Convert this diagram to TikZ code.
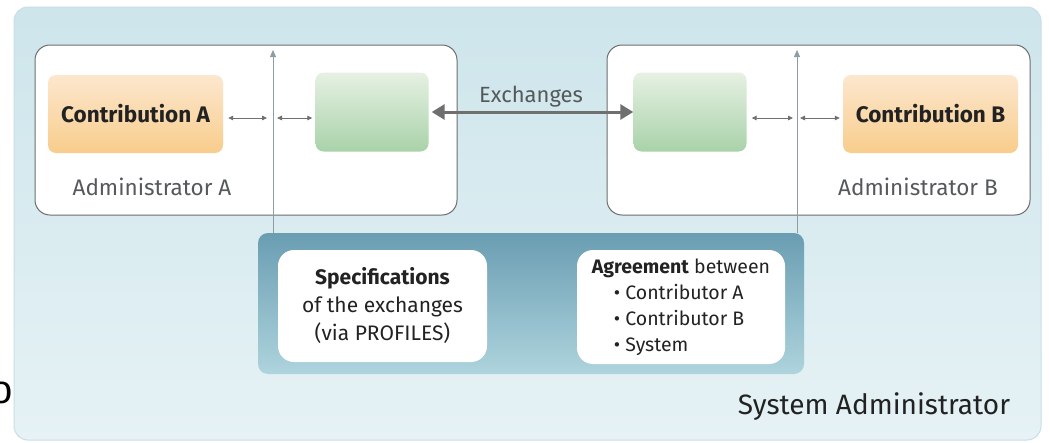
\documentclass[tikz,border=0pt]{standalone}
\usepackage{fontspec}
\setmainfont{Fira Sans}
\newfontfamily\strayfont{Liberation Sans}
\usetikzlibrary{arrows.meta}

\definecolor{panelTop}{HTML}{CDE5EB}
\definecolor{panelBot}{HTML}{E6F2F5}
\definecolor{panelRim}{HTML}{C8DFE5}
\definecolor{deepTop}{HTML}{6A9DB2}
\definecolor{deepBot}{HTML}{AED4DD}
\definecolor{orangeTop}{HTML}{FCE7CE}
\definecolor{orangeBot}{HTML}{F8CD8C}
\definecolor{greenTop}{HTML}{E6F1E3}
\definecolor{greenBot}{HTML}{A9D2A9}
\definecolor{rimGray}{HTML}{6E6E6E}
\definecolor{inkDark}{HTML}{222222}
\definecolor{inkGray}{HTML}{55595C}
\definecolor{arrowGray}{HTML}{6F6F6F}
\definecolor{lineGray}{HTML}{8E9DA3}

\begin{document}
\begin{tikzpicture}[x=1pt,y=-1pt,
  adminbox/.style={draw=rimGray, line width=1pt, fill=white, rounded corners=15pt,
    minimum height=170pt, inner sep=0pt},
  contrib/.style={top color=orangeTop, bottom color=orangeBot, rounded corners=8pt,
    minimum width=175pt, minimum height=78pt, inner sep=0pt, text=inkDark,
    font=\fontsize{22.5}{26}\selectfont\bfseries},
  gate/.style={top color=greenTop, bottom color=greenBot, rounded corners=8pt,
    minimum width=113pt, minimum height=79pt, inner sep=0pt},
  adminlabel/.style={text=inkGray, font=\fontsize{22.5}{26}\selectfont, inner sep=0pt},
  notebox/.style={fill=white, rounded corners=16pt, inner sep=0pt, text=inkDark},
  smallarrow/.style={draw=arrowGray, line width=0.8pt,
    {Triangle[length=5pt,width=4.5pt]}-{Triangle[length=5pt,width=4.5pt]}},
  bigarrow/.style={draw=arrowGray, line width=3pt,
    {Triangle[length=13pt,width=15pt]}-{Triangle[length=13pt,width=15pt]}},
  riser/.style={draw=lineGray, line width=0.8pt, -{Triangle[length=7pt,width=6pt]}}
]
\useasboundingbox (0,0) rectangle (1050,442);
\fill[white] (0,0) rectangle (1050,442);

% outer system panel
\path[draw=panelRim, line width=1pt, top color=panelTop, bottom color=panelBot,
  rounded corners=14pt] (14,7) rectangle (1041,440);

% stray glyph at the left edge
\node[text=black, font=\strayfont\fontsize{40}{40}\selectfont, inner sep=0pt]
  (stray) at (2,393) {o};

% administrator boxes
\node[adminbox, minimum width=422pt] (admA) at (246,130) {};
\node[adminbox, minimum width=423pt] (admB) at (818.5,130) {};

% contributions and exchange gateways
\node[contrib] (contribA) at (135.5,114) {\raisebox{-2pt}{Contribution A}};
\node[gate] (gateA) at (372,112) {};
\node[gate] (gateB) at (690,112) {};
\node[contrib] (contribB) at (930.5,114) {\raisebox{-2pt}{Contribution B}};

\node[adminlabel] (lblA) at (152,187) {Administrator A};
\node[adminlabel] (lblB) at (918,187) {Administrator B};

% system level panel with its two notes
\path[top color=deepTop, bottom color=deepBot, rounded corners=10pt]
  (258,233) rectangle (804,374);
\coordinate (deckTop) at (0,233);

\node[notebox, minimum width=209pt, minimum height=112pt, align=center,
  font=\fontsize{21}{28}\selectfont]
  (spec) at (382.5,306)
  {\textbf{Specifications}\\of the exchanges\\(via PROFILES)};
\node[notebox, minimum width=208pt, minimum height=114pt, align=left,
  font=\fontsize{19.5}{26}\selectfont]
  (agree) at (681,307)
  {\textbf{Agreement} between\\
   \hspace*{22pt}\textbullet\ Contributor A\\
   \hspace*{22pt}\textbullet\ Contributor B\\
   \hspace*{22pt}\textbullet\ System};

\node[text=inkDark, font=\fontsize{28}{32}\selectfont, inner sep=0pt]
  (sysadm) at (874,407) {System Administrator};

% risers from the system panel into each administrator box
\coordinate (tipA) at (273,50);
\coordinate (tipB) at (797,50);
\draw[riser] (deckTop -| tipA) -- (tipA);
\draw[riser] (deckTop -| tipB) -- (tipB);

% local links
\coordinate (row) at (0,118);
\draw[smallarrow, shorten <=5pt, shorten >=6pt] (contribA.east |- row) -- (tipA |- row);
\draw[smallarrow, shorten <=4pt, shorten >=3pt] (tipA |- row) -- (gateA.west |- row);
\draw[smallarrow, shorten <=5pt, shorten >=4pt] (gateB.east |- row) -- (tipB |- row);
\draw[smallarrow, shorten <=3pt, shorten >=3pt] (tipB |- row) -- (contribB.west |- row);

% exchanges between the gateways
\draw[bigarrow, shorten <=3pt] (gateA.east) -- node[above=3pt, text=inkGray,
  font=\fontsize{22}{26}\selectfont, inner sep=0pt] (exlbl) {Exchanges} (gateB.west);
\end{tikzpicture}
\end{document}
